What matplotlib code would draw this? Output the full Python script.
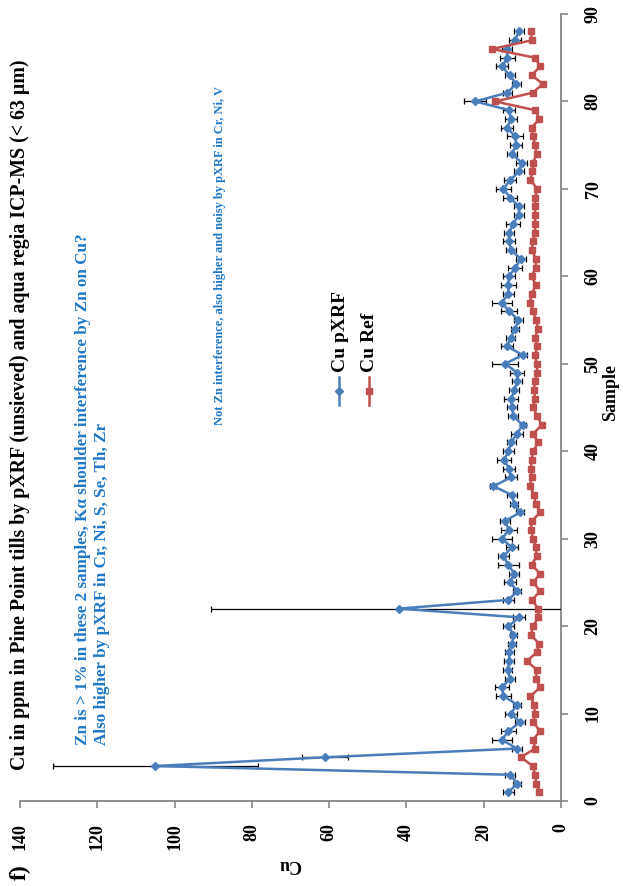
import matplotlib
matplotlib.use("Agg")
import matplotlib.pyplot as plt
from matplotlib.lines import Line2D
import numpy as np

# ---------------- data ----------------
samples = list(range(1, 89))
cu_pxrf = [13.6, 11.3, 13.2, 105.0, 61.0, 11.4, 15.3, 13.6, 10.6, 13.0,
           11.3, 14.9, 15.2, 13.2, 13.8, 13.4, 13.4, 12.7, 12.3, 13.6,
           10.8, 42.0, 13.6, 11.3, 13.2, 12.1, 13.6, 14.9, 12.7, 15.3,
           13.4, 14.6, 10.6, 12.1, 12.7, 17.5, 13.0, 13.4, 14.7, 13.6,
           12.9, 11.4, 9.9, 12.3, 12.7, 12.9, 12.1, 11.3, 11.3, 14.5,
           9.9, 14.0, 13.0, 11.9, 11.0, 13.4, 15.3, 13.6, 13.6, 13.5,
           11.8, 10.4, 12.9, 13.5, 13.4, 12.4, 10.9, 10.9, 13.2, 14.9,
           13.2, 10.8, 10.2, 12.7, 11.6, 11.9, 13.9, 13.0, 13.4, 22.2,
           13.9, 11.6, 13.3, 15.2, 13.9, 14.0, 11.9, 10.9]
cu_pxrf_err = [1.5, 1.0, 1.3, 26.5, 6.0, 1.3, 2.5, 2.0, 1.2, 1.5,
               1.0, 2.0, 1.8, 1.3, 1.2, 1.3, 1.2, 1.0, 1.0, 1.5,
               1.5, 48.5, 1.4, 1.0, 1.5, 1.3, 2.8, 1.5, 1.5, 2.5,
               2.0, 1.3, 1.0, 1.0, 1.2, 0.8, 1.5, 1.5, 1.8, 1.5,
               1.2, 1.5, 0.8, 1.3, 1.2, 1.8, 1.3, 1.3, 1.8, 3.4,
               1.2, 1.5, 1.2, 1.0, 1.2, 2.0, 2.5, 1.5, 2.0, 1.5,
               1.8, 1.3, 1.3, 1.5, 1.3, 1.8, 1.2, 1.2, 1.8, 2.0,
               1.5, 1.3, 1.5, 1.2, 1.5, 2.0, 1.5, 1.5, 1.5, 2.9,
               1.2, 1.2, 1.3, 1.5, 2.0, 1.2, 1.5, 1.2]
cu_ref = [5.6, 6.4, 6.7, 7.3, 10.4, 6.7, 7.2, 5.4, 7.2, 6.7,
          7.0, 7.9, 5.4, 6.5, 6.2, 8.9, 6.2, 5.7, 7.8, 7.2,
          5.9, 5.9, 7.5, 5.4, 7.2, 5.4, 7.6, 6.3, 6.5, 7.2,
          7.8, 7.6, 5.4, 6.5, 7.0, 8.0, 7.6, 7.8, 7.6, 7.2,
          5.9, 7.2, 5.0, 6.1, 7.2, 6.7, 7.0, 6.7, 6.1, 6.3,
          6.7, 6.1, 6.7, 5.9, 6.5, 7.2, 8.0, 7.6, 6.5, 7.6,
          6.5, 6.5, 7.6, 7.2, 6.7, 6.7, 6.7, 6.7, 6.7, 6.1,
          7.9, 7.4, 7.2, 6.3, 6.7, 7.2, 7.6, 5.6, 6.7, 17.0,
          7.3, 4.7, 7.6, 5.4, 6.7, 17.8, 7.5, 7.8]
cu_ticks = [0, 20, 40, 60, 80, 100, 120, 140]
sample_ticks = [0, 10, 20, 30, 40, 50, 60, 70, 80, 90]

title = "Cu in ppm in Pine Point tills by pXRF (unsieved) and aqua regia ICP-MS (< 63 µm)"
note1 = "Zn is > 1% in these 2 samples, Kα shoulder interference by Zn on Cu?"
note2 = "Also higher by pXRF in Cr, Ni, S, Se, Th, Zr"
note3 = "Not Zn interference, also higher and noisy by pXRF in Cr, Ni, V"

# ---------------- style ----------------
W, H = 623, 886
BLUE = "#4A7EBB"
RED = "#C0504D"
NOTE = "#1F78C8"
GRAY = "#868686"
SERIF = ["Liberation Serif", "DejaVu Serif"]
plt.rcParams["font.family"] = SERIF
plt.rcParams["font.weight"] = "bold"

fig = plt.figure(figsize=(W / 100, H / 100), dpi=100)

def fx(px):
    return px / W

def fy(py):
    return 1 - py / H

ax = fig.add_axes([fx(20), fy(801), fx(561) - fx(20), fy(14) - fy(801)])

ax.errorbar(cu_pxrf, samples, xerr=cu_pxrf_err, color=BLUE, lw=1.8,
            marker="D", ms=4, mfc=BLUE, mec=BLUE,
            ecolor="black", elinewidth=0.9, capsize=2.5, capthick=0.9, zorder=3)
ax.plot(cu_ref, samples, color=RED, lw=1.8, marker="s", ms=5,
        mfc=RED, mec=RED, zorder=4)

ax.set_xlim(140, 0)
ax.set_ylim(0, 90)
ax.set_xticks(cu_ticks)
ax.set_yticks(sample_ticks)
ax.yaxis.tick_right()

for s in ["left", "top"]:
    ax.spines[s].set_visible(False)
for s in ["bottom", "right"]:
    ax.spines[s].set_color(GRAY)
    ax.spines[s].set_linewidth(1.3)

ax.tick_params(axis="x", direction="out", length=5, width=1.2, color=GRAY,
               labelsize=13, labelrotation=90, pad=11)
ax.tick_params(axis="y", direction="out", length=5, width=1.2, color=GRAY,
               labelsize=13, labelrotation=90, pad=12)
for lab in ax.get_xticklabels() + ax.get_yticklabels():
    lab.set_fontweight("bold")
for lab in ax.get_yticklabels():
    lab.set_verticalalignment("center")

# axis titles
fig.text(fx(290), fy(864), "Cu", rotation=180, ha="center", va="center",
         fontsize=13, fontweight="bold")
fig.text(fx(611), fy(392), "Sample", rotation=90, ha="center", va="center",
         fontsize=13, fontweight="bold")

# chart title and panel label
fig.text(fx(20), fy(770), title, rotation=90, ha="center", va="bottom",
         fontsize=14.3, fontweight="bold")
fig.text(fx(20), fy(872), "f)", rotation=90, ha="center", va="center",
         fontsize=17, fontweight="bold")

# annotations
fig.text(fx(83), fy(745), note1, rotation=90, ha="center", va="bottom",
         fontsize=12.3, fontweight="bold", color=NOTE)
fig.text(fx(102), fy(745), note2, rotation=90, ha="center", va="bottom",
         fontsize=12.3, fontweight="bold", color=NOTE)
fig.text(fx(220), fy(425), note3, rotation=90, ha="center", va="bottom",
         fontsize=9, fontweight="bold", color=NOTE)

# legend (rotated, drawn manually)
fig.add_artist(Line2D([fx(339), fx(339)], [fy(405), fy(377)], color=BLUE, lw=1.8,
                      transform=fig.transFigure))
fig.add_artist(Line2D([fx(339)], [fy(391)], color=BLUE, marker="D", ms=4,
                      transform=fig.transFigure))
fig.add_artist(Line2D([fx(369), fx(369)], [fy(405), fy(377)], color=RED, lw=1.8,
                      transform=fig.transFigure))
fig.add_artist(Line2D([fx(369)], [fy(391)], color=RED, marker="s", ms=5,
                      transform=fig.transFigure))
fig.text(fx(340), fy(372), "Cu pXRF", rotation=90, ha="center", va="bottom",
         fontsize=14, fontweight="bold")
fig.text(fx(370), fy(372), "Cu Ref", rotation=90, ha="center", va="bottom",
         fontsize=14, fontweight="bold")

fig.savefig("out.png", dpi=100)
